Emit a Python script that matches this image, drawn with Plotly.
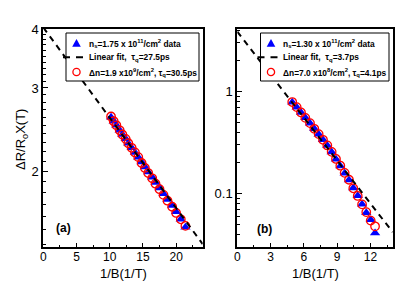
import plotly.graph_objects as go

# ---------------- data: panel (a) ----------------
xa = [10.2, 10.6, 11.0, 11.5, 11.9, 12.4, 12.8, 13.3, 13.8, 14.3, 14.8,
      15.3, 15.8, 16.4, 16.9, 17.5, 18.1, 18.7, 19.4, 20.0, 20.7, 21.4]
ya_data = [2.60, 2.55, 2.50, 2.44, 2.39, 2.34, 2.29, 2.24, 2.19, 2.14, 2.09,
           2.04, 1.99, 1.94, 1.89, 1.84, 1.79, 1.74, 1.69, 1.64, 1.58, 1.52]
ya_model = [2.61, 2.55, 2.50, 2.44, 2.39, 2.34, 2.29, 2.24, 2.19, 2.14, 2.08,
            2.03, 1.98, 1.93, 1.88, 1.83, 1.78, 1.73, 1.68, 1.63, 1.58, 1.53]
xa_fit = [0.0, 24.0]
ya_fit = [4.03, 1.40]

# ---------------- data: panel (b) ----------------
xb = [4.95, 5.35, 5.74, 6.13, 6.55, 6.94, 7.33, 7.72, 8.11, 8.50,
      8.89, 9.28, 9.67, 10.06, 10.45, 10.85, 11.24, 11.62, 12.02, 12.41]
yb_data = [0.788, 0.704, 0.624, 0.553, 0.491, 0.432, 0.383, 0.337, 0.297, 0.256,
           0.218, 0.187, 0.159, 0.136, 0.1137, 0.0956, 0.0786, 0.0650, 0.0557, 0.0413]
yb_model = [0.790, 0.705, 0.625, 0.553, 0.491, 0.432, 0.383, 0.337, 0.297, 0.257,
            0.219, 0.188, 0.160, 0.137, 0.1130, 0.0950, 0.0786, 0.0660, 0.0545, 0.0479]
xb_fit = [0.0, 14.0]
yb_fit = [3.86, 0.042]

# ---------------- ticks ----------------
ya_ticks = [2, 3, 4]
ya_ticklabels = ["2", "3", "4"]
ya_minor = [1.4, 1.5, 1.6, 1.7, 1.8, 1.9, 2.1, 2.2, 2.3, 2.4, 2.5, 2.6, 2.7, 2.8, 2.9,
            3.1, 3.2, 3.3, 3.4, 3.5, 3.6, 3.7, 3.8, 3.9]
yb_ticks = [0.1, 1]
yb_ticklabels = ["0.1", "1"]
yb_minor = [0.03, 0.04, 0.05, 0.06, 0.07, 0.08, 0.09,
            0.2, 0.3, 0.4, 0.5, 0.6, 0.7, 0.8, 0.9, 2, 3, 4]

leg_a = ["n<sub>s</sub>=1.75 x 10<sup>11</sup>/cm<sup>2</sup> data",
         "Linear fit,  τ<sub>q</sub>=27.5ps",
         "Δn=1.9 x10<sup>9</sup>/cm<sup>2</sup>, τ<sub>q</sub>=30.5ps"]
leg_b = ["n<sub>s</sub>=1.30 x 10<sup>11</sup>/cm<sup>2</sup> data",
         "Linear fit,  τ<sub>q</sub>=3.7ps",
         "Δn=7.0 x10<sup>8</sup>/cm<sup>2</sup>, τ<sub>q</sub>=4.1ps"]

FONT = "Liberation Sans, Arial, sans-serif"
BLUE = "#0000ff"
RED = "#ff0000"
W, H = 415, 291

fig = go.Figure()

def add_panel(x, yd, ym, xf, yf, labels, xax, yax):
    fig.add_trace(go.Scatter(x=x, y=yd, mode="markers", name=labels[0],
                             xaxis=xax, yaxis=yax, showlegend=False,
                             marker=dict(symbol="triangle-up", size=9, color=BLUE,
                                         line=dict(width=0))))
    fig.add_trace(go.Scatter(x=x, y=ym, mode="markers", name=labels[2],
                             xaxis=xax, yaxis=yax, showlegend=False,
                             marker=dict(symbol="circle-open", size=8.5, color=RED,
                                         line=dict(width=1.3, color=RED))))
    fig.add_trace(go.Scatter(x=xf, y=yf, mode="lines", name=labels[1],
                             xaxis=xax, yaxis=yax, showlegend=False,
                             line=dict(color="black", width=2, dash="6px,5px")))

add_panel(xa, ya_data, ya_model, xa_fit, ya_fit, leg_a, "x", "y")
add_panel(xb, yb_data, yb_model, xb_fit, yb_fit, leg_b, "x2", "y2")

def px(v):
    return v / W

def py(v):
    return 1 - v / H

def dx(a, b):
    return [px(a), px(b)]

def dy(top, bottom):
    return [py(bottom), py(top)]

common_x = dict(showline=True, linecolor="black", linewidth=2, mirror=True,
                ticks="inside", ticklen=4, tickwidth=1.3, tickcolor="black",
                showgrid=False, zeroline=False, ticklabelstandoff=-3,
                tickfont=dict(family=FONT, size=12, color="black"),
                automargin=False)
common_y = dict(type="log", showline=True, linecolor="black", linewidth=2, mirror=True,
                ticks="inside", ticklen=5, tickwidth=1.3, tickcolor="black",
                showgrid=False, zeroline=False, tickmode="array",
                tickfont=dict(family=FONT, size=13, color="black"),
                automargin=False)

fig.update_layout(
    width=W, height=H,
    margin=dict(l=0, r=0, t=0, b=0),
    paper_bgcolor="white", plot_bgcolor="white",
    font=dict(family=FONT, color="black"),
    showlegend=False,
    xaxis=dict(domain=dx(43.3, 202.7), range=[0, 24], dtick=5, tick0=0,
               minor=dict(dtick=2.5, ticks="inside", ticklen=2.5, tickwidth=1.2,
                          tickcolor="black"),
               anchor="y", **common_x),
    yaxis=dict(domain=dy(29, 247.3), range=[0.1393, 0.6021],
               tickvals=ya_ticks, ticktext=ya_ticklabels,
               minor=dict(tickvals=ya_minor, ticks="inside", ticklen=3, tickwidth=1.2,
                          tickcolor="black"),
               anchor="x", **common_y),
    xaxis2=dict(domain=dx(237.3, 392.7), range=[0, 14], dtick=3, tick0=0,
                minor=dict(dtick=1.5, ticks="inside", ticklen=2.5, tickwidth=1.2,
                           tickcolor="black"),
                anchor="y2", **common_x),
    yaxis2=dict(domain=dy(29, 247.3), range=[-1.525, 0.613],
                tickvals=yb_ticks, ticktext=yb_ticklabels,
                minor=dict(tickvals=yb_minor, ticks="inside", ticklen=3, tickwidth=1.2,
                           tickcolor="black"),
                anchor="x2", **common_y),
)

shapes = []
annots = []

def legend_box(left, right, top, bottom, labels):
    # box
    shapes.append(dict(type="rect", xref="paper", yref="paper", layer="above",
                       x0=px(left), x1=px(right), y0=py(bottom), y1=py(top),
                       fillcolor="white", line=dict(color="black", width=1)))
    rows = [top + 10.3, top + 24.3, top + 39.0]
    sx = left + 10.5
    # triangle symbol
    r = 4.3
    y0 = rows[0]
    path = "M {:.5f},{:.5f} L {:.5f},{:.5f} L {:.5f},{:.5f} Z".format(
        px(sx - r), py(y0 + r * 0.8), px(sx + r), py(y0 + r * 0.8), px(sx), py(y0 - r))
    shapes.append(dict(type="path", xref="paper", yref="paper", layer="above",
                       path=path, fillcolor=BLUE, line=dict(width=0)))
    # dashed line symbol
    shapes.append(dict(type="line", xref="paper", yref="paper", layer="above",
                       x0=px(left - 3), x1=px(left + 20), y0=py(rows[1]), y1=py(rows[1]),
                       line=dict(color="black", width=2, dash="7px,6px")))
    # circle symbol
    cr = 3.6
    shapes.append(dict(type="circle", xref="paper", yref="paper", layer="above",
                       x0=px(sx - cr), x1=px(sx + cr), y0=py(rows[2] + cr), y1=py(rows[2] - cr),
                       line=dict(color=RED, width=1.3), fillcolor="rgba(0,0,0,0)"))
    for lab, yy in zip(labels, rows):
        annots.append(dict(text=lab, x=px(left + 20.5), y=py(yy), xref="paper", yref="paper",
                           xanchor="left", yanchor="middle", showarrow=False,
                           font=dict(family=FONT, size=8.4, color="black", weight="bold")))

legend_box(66, 199, 33, 81, leg_a)
legend_box(260.5, 389, 33, 81, leg_b)

def label(text, x, y, size, angle=0):
    annots.append(dict(text=text, x=px(x), y=py(y), xref="paper", yref="paper",
                       xanchor="center", yanchor="middle", showarrow=False,
                       textangle=angle, font=dict(family=FONT, size=size, color="black")))

label("1/B(1/T)", 123, 273, 13)
label("1/B(1/T)", 315, 273, 13)
label("ΔR/R<sub>o</sub>X(T)", 21, 140, 13, -90)
label("<b>(a)</b>", 63, 228, 12)
label("<b>(b)</b>", 264, 229, 12)

fig.update_layout(shapes=shapes, annotations=annots)

fig.write_html("out.html", config={"displayModeBar": False},
               post_script="document.body.style.margin='0px';document.body.style.overflow='hidden';")
